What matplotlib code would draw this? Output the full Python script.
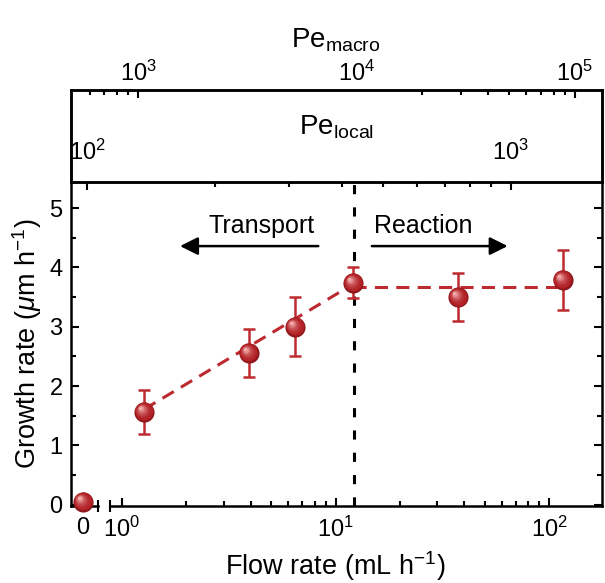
import numpy as np
import matplotlib
matplotlib.use('Agg')
import matplotlib.pyplot as plt
import matplotlib.transforms as mtransforms
from matplotlib.colors import to_rgb
from matplotlib.ticker import FixedLocator, NullFormatter

plt.rcParams['font.family'] = 'Liberation Sans'
plt.rcParams['mathtext.fontset'] = 'custom'
plt.rcParams['mathtext.rm'] = 'Liberation Sans'
plt.rcParams['mathtext.it'] = 'Liberation Sans:italic'
plt.rcParams['mathtext.bf'] = 'Liberation Sans:bold'
plt.rcParams['axes.linewidth'] = 1.8

# --- data ---
zero_flow = [0.0]
zero_growth = [0.05]

flow = [1.27, 3.93, 6.46, 12.1, 37.5, 116]          # mL/h
growth = [1.57, 2.56, 3.00, 3.74, 3.50, 3.79]       # um/h
growth_err = [0.37, 0.41, 0.50, 0.26, 0.40, 0.50]

transport_fit_flow = [1.27, 12.1]
transport_fit_growth = [1.61, 3.72]
reaction_fit_flow = [12.1, 116]
reaction_fit_growth = [3.67, 3.67]

boundary_flow = 12.2

flow_ticks = [1, 10, 100]
pe_macro_ticks = [1e3, 1e4, 1e5]
pe_local_ticks = [1e2, 1e3]

RED = '#bd2a2f'
FS = 17        # tick labels
FS_LAB = 19.5  # axis titles
FS_TXT = 18    # regime labels

W, H = 605, 583
fig = plt.figure(figsize=(W / 100, H / 100), dpi=100)


def frac_x(px):
    return px / W


def frac_y(py):
    return 1 - py / H


L, R = 71, 602
TOP_BOX, MID, BOT = 90, 182, 506

ax0 = fig.add_axes([frac_x(L), frac_y(BOT), frac_x(98 - L), (BOT - MID) / H])
ax1 = fig.add_axes([frac_x(110), frac_y(BOT), frac_x(R - 110), (BOT - MID) / H], sharey=ax0)
box = fig.add_axes([frac_x(L), frac_y(MID), frac_x(R - L), (MID - TOP_BOX) / H])
top = box.twiny()

ylim = (-0.02, 5.44)
ax0.set_ylim(*ylim)

# ---- zero segment ----
ax0.set_xlim(-1, 1.25)
ax0.spines['right'].set_visible(False)
ax0.spines['top'].set_visible(False)
ax0.set_xticks([0])
ax0.set_xticklabels(['0'])
ax0.set_yticks([0, 1, 2, 3, 4, 5])
ax0.set_yticks(np.arange(0.5, 5.5, 1.0), minor=True)
ax0.tick_params(axis='both', which='major', direction='in', length=6, width=1.5,
                labelsize=FS)
ax0.tick_params(axis='y', which='minor', direction='in', length=3.5, width=1.5)
ax0.tick_params(axis='x', pad=8)
ax0.tick_params(axis='y', pad=6)
ax0.set_ylabel(r'Growth rate ($\mu$m h$^{-1}$)', fontsize=FS_LAB, labelpad=4)

# ---- log segment ----
ax1.set_xscale('log')
ax1.set_xlim(10 ** -0.0562, 10 ** 2.248)
ax1.spines['left'].set_visible(False)
ax1.spines['top'].set_visible(False)
ax1.xaxis.set_major_locator(FixedLocator(flow_ticks))
ax1.xaxis.set_minor_locator(FixedLocator([m * d for d in (1, 10) for m in range(2, 10)]))
ax1.xaxis.set_minor_formatter(NullFormatter())
ax1.yaxis.tick_right()
ax1.tick_params(axis='y', which='both', labelright=False, labelleft=False)
ax1.tick_params(axis='both', which='major', direction='in', length=6, width=1.5,
                labelsize=FS)
ax1.tick_params(axis='both', which='minor', direction='in', length=3.5, width=1.5)
ax1.tick_params(axis='x', pad=8)

# break marks on the bottom spine
for a, xa in ((ax0, 1.0), (ax1, 0.0)):
    a.plot([xa, xa], [-0.018, 0.018], transform=a.transAxes, color='k',
           lw=1.5, clip_on=False, solid_capstyle='butt')

# ---- Peclet box ----
box.set_xscale('log')
box.set_xlim(10 ** 1.962, 10 ** 3.215)
box.set_yticks([])
box.xaxis.set_major_locator(FixedLocator(pe_local_ticks))
box.xaxis.set_minor_locator(FixedLocator([m * 100 for m in range(2, 10)]))
box.xaxis.set_minor_formatter(NullFormatter())
box.tick_params(axis='x', which='major', direction='out', length=6, width=1.5,
                labelsize=FS, pad=-18)
box.tick_params(axis='x', which='minor', direction='out', length=3.5, width=1.5)
for lab in box.get_xticklabels():
    lab.set_va('bottom')

top.set_xscale('log')
top.set_xlim(10 ** 2.693, 10 ** 5.124)
top.xaxis.set_major_locator(FixedLocator(pe_macro_ticks))
top.xaxis.set_minor_locator(FixedLocator([600, 700, 800, 900] + [m * 1e4 for m in range(2, 10)]))
top.xaxis.set_minor_formatter(NullFormatter())
top.tick_params(axis='x', which='major', direction='in', length=6, width=1.5,
                labelsize=FS, pad=3)
top.tick_params(axis='x', which='minor', direction='in', length=3.5, width=1.5)
fig.canvas.draw()
top.xaxis.get_major_ticks()[1].tick2line.set_visible(False)

fig.text(frac_x(336), frac_y(127), r'Pe$_{\rm local}$', fontsize=20,
         ha='center', va='center')
fig.text(frac_x(336), frac_y(40), r'Pe$_{\rm macro}$', fontsize=20,
         ha='center', va='center')
fig.text(frac_x(335), frac_y(566), r'Flow rate (mL h$^{-1}$)', fontsize=FS_LAB,
         ha='center', va='center')

# ---- data ----
ax1.axvline(boundary_flow, color='k', lw=2.2, dashes=(3, 4.3), zorder=1)
ax1.plot(transport_fit_flow, transport_fit_growth, color=RED, lw=2.2,
         dashes=(4.3, 2.7), zorder=2)
ax1.plot(reaction_fit_flow, reaction_fit_growth, color=RED, lw=2.2,
         dashes=(4.3, 2.7), zorder=2)
ax1.errorbar(flow, growth, yerr=growth_err, fmt='none', ecolor=RED,
             elinewidth=1.8, capsize=4.3, capthick=1.8, zorder=3)


def sphere(ax, xs, ys, s=210):
    d = np.sqrt(s)
    base = np.array(to_rgb('#b02025'))
    light = np.array(to_rgb('#f5b0b0'))
    ax.scatter(xs, ys, s=s, color='#8c161b', zorder=4, clip_on=False, linewidths=0)
    for f in np.linspace(0.9, 0.15, 9):
        t = (0.9 - f) / 0.75
        col = base + (light - base) * t ** 1.8
        off = (1 - f) * d * 0.22
        tr = mtransforms.offset_copy(ax.transData, fig=fig, x=-off, y=off, units='points')
        ax.scatter(xs, ys, s=s * f ** 2, color=col, zorder=4 + t, transform=tr,
                   clip_on=False, linewidths=0)


sphere(ax1, flow, growth)
sphere(ax0, zero_flow, zero_growth)

# ---- regime annotations ----
arrow = dict(arrowstyle='-|>', lw=1.8, color='k', mutation_scale=27,
             shrinkA=0, shrinkB=0)
ax1.annotate('', xy=(1.87, 4.36), xytext=(8.3, 4.36), arrowprops=arrow)
ax1.annotate('', xy=(64.0, 4.36), xytext=(14.8, 4.36), arrowprops=arrow)
ax1.text(4.5, 4.70, 'Transport', ha='center', va='center', fontsize=FS_TXT)
ax1.text(25.7, 4.70, 'Reaction', ha='center', va='center', fontsize=FS_TXT)

fig.savefig('out.png', dpi=100)
